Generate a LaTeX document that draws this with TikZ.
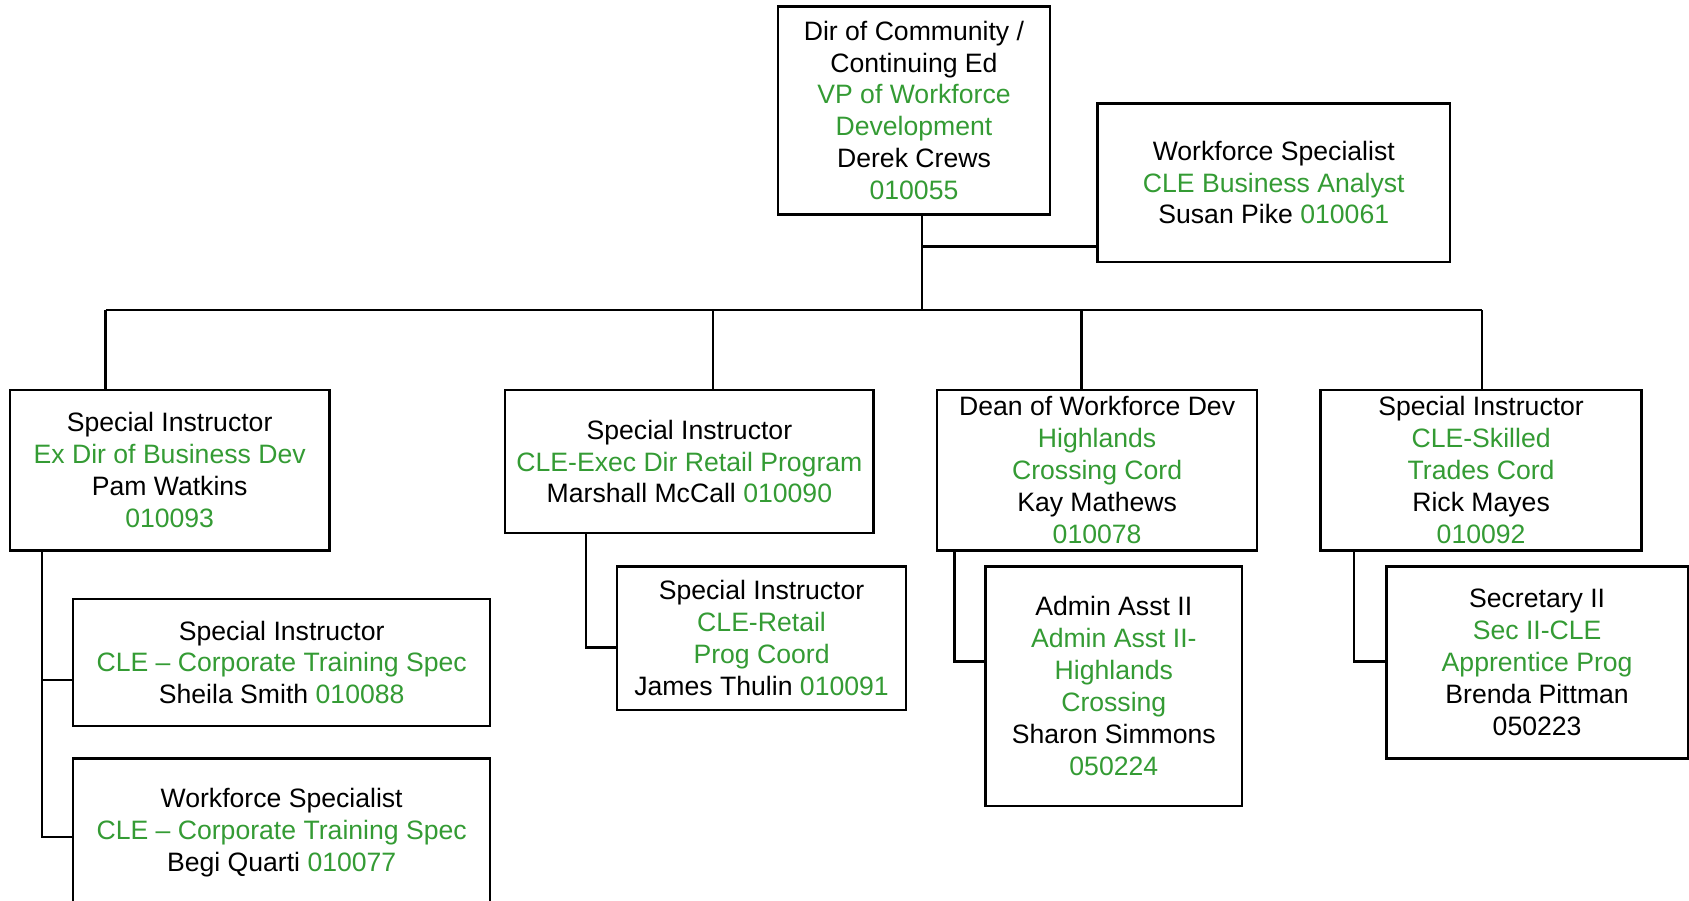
\documentclass[tikz,border=0pt]{standalone}
\usepackage{fontspec}
\setmainfont{Liberation Sans}
\definecolor{g}{RGB}{52,155,52}
\newcommand{\gr}[1]{\textcolor{g}{#1}}
\begin{document}
\begin{tikzpicture}[x=1pt,y=-1pt,
 box/.style={draw,line width=2.2pt,inner sep=0pt,align=center,font=\fontsize{24.7}{29.6}\selectfont},
 conn/.style={line width=2.2pt}]
\useasboundingbox (0,0) rectangle (1568,836);
% top
\node[box,minimum width=253pt,minimum height=193pt] (top) at (848.5,102.5)
 {Dir of Community /\\ Continuing Ed\\ \gr{VP of Workforce}\\ \gr{Development}\\ Derek Crews\\ \gr{010055}};
\node[box,minimum width=327pt,minimum height=147pt] (spec) at (1182.5,169.5)
 {Workforce Specialist\\ \gr{CLE Business Analyst}\\ Susan Pike \gr{010061}};
% level 2
\node[box,minimum width=297pt,minimum height=149pt] (b1) at (157.5,436.5)
 {Special Instructor\\ \gr{Ex Dir of Business Dev}\\ Pam Watkins\\ \gr{010093}};
\node[box,minimum width=342pt,minimum height=133pt] (b2) at (640,428.5)
 {Special Instructor\\ \gr{CLE-Exec Dir Retail Program}\\ Marshall McCall \gr{010090}};
\node[box,minimum width=297pt,minimum height=149pt] (b3) at (1018.5,436.5)
 {Dean of Workforce Dev\\ \gr{Highlands}\\ \gr{Crossing Cord}\\ Kay Mathews\\ \gr{010078}};
\node[box,minimum width=298pt,minimum height=149pt] (b4) at (1375,436.5)
 {Special Instructor\\ \gr{CLE-Skilled}\\ \gr{Trades Cord}\\ Rick Mayes\\ \gr{010092}};
% level 3
\node[box,minimum width=387pt,minimum height=118pt] (c1a) at (261.5,615)
 {Special Instructor\\ \gr{CLE -- Corporate Training Spec}\\ Sheila Smith \gr{010088}};
\node[box,minimum width=387pt,minimum height=138pt] (c1b) at (261.5,773)
 {Workforce Specialist\\ \gr{CLE -- Corporate Training Spec}\\ Begi Quarti \gr{010077}};
\node[box,minimum width=268pt,minimum height=133pt] (c2) at (707,592.5)
 {Special Instructor\\ \gr{CLE-Retail}\\ \gr{Prog Coord}\\ James Thulin \gr{010091}};
\node[box,minimum width=238pt,minimum height=222pt] (c3) at (1034,637)
 {Admin Asst II\\ \gr{Admin Asst II-}\\ \gr{Highlands}\\ \gr{Crossing}\\ Sharon Simmons\\ \gr{050224}};
\node[box,minimum width=280pt,minimum height=178pt] (c4) at (1427,615)
 {Secretary II\\ \gr{Sec II-CLE}\\ \gr{Apprentice Prog}\\ Brenda Pittman\\ 050223};
% connectors
\coordinate (bus) at (856,288);
\coordinate (js) at (856,229);
\coordinate (d1) at (98,288);
\coordinate (d2) at (662,288);
\coordinate (d3) at (1004,288);
\coordinate (d4) at (1376,288);
\draw[conn] (top.south -| bus) -- (bus);
\draw[conn] (js) -- (js -| spec.west);
\draw[conn] (d1) -- (d4);
\draw[conn] (d1) -- (d1 |- b1.north);
\draw[conn] (d2) -- (d2 |- b2.north);
\draw[conn] (d3) -- (d3 |- b3.north);
\draw[conn] (d4) -- (d4 |- b4.north);
\coordinate (t1) at (39,631);
\coordinate (t1b) at (39,777);
\draw[conn] (b1.south -| t1) -- (t1b) -- (t1b -| c1b.west);
\draw[conn] (t1) -- (t1 -| c1a.west);
\coordinate (t2) at (544,601);
\draw[conn] (b2.south -| t2) -- (t2) -- (t2 -| c2.west);
\coordinate (t3) at (886,614);
\draw[conn] (b3.south -| t3) -- (t3) -- (t3 -| c3.west);
\coordinate (t4) at (1257,614);
\draw[conn] (b4.south -| t4) -- (t4) -- (t4 -| c4.west);
\end{tikzpicture}
\end{document}
